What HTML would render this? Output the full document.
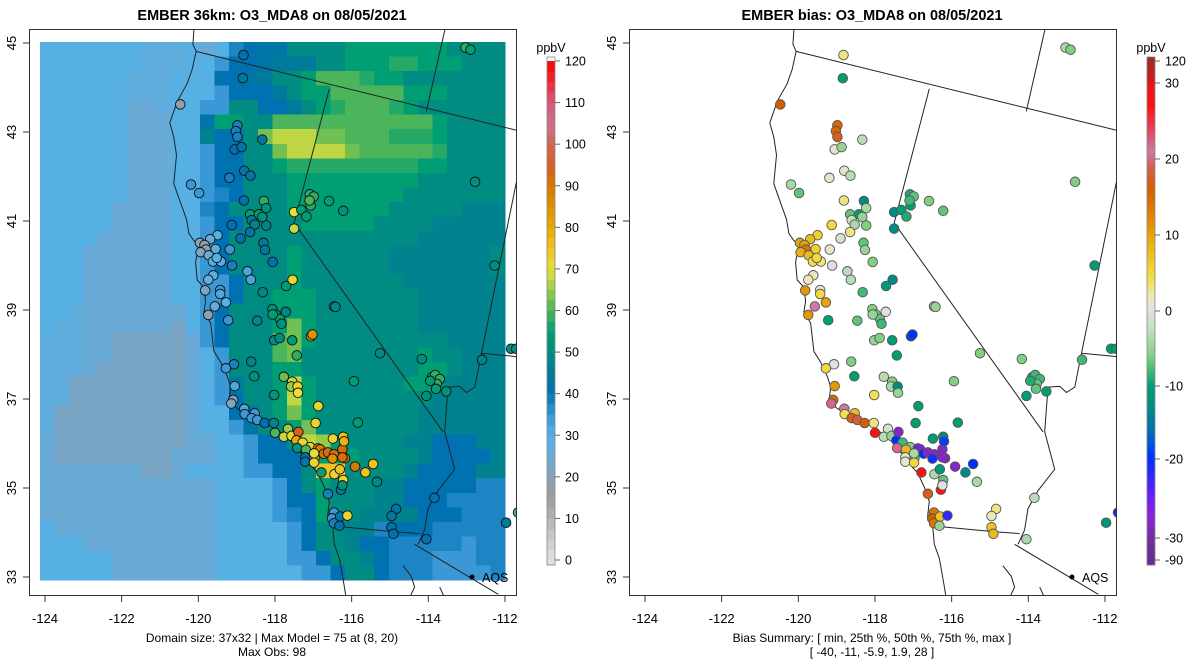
<!DOCTYPE html>
<html><head><meta charset="utf-8"><title>EMBER O3_MDA8</title>
<style>
html,body{margin:0;padding:0;background:#fff;}
svg{display:block;font-family:"Liberation Sans",Arial,sans-serif;}
</style></head>
<body>
<svg id="fig" width="1200" height="672" viewBox="0 0 1200 672" xmlns="http://www.w3.org/2000/svg">
<defs>
<clipPath id="clipL"><rect x="29" y="29" width="487" height="566"/></clipPath>
<clipPath id="clipR"><rect x="629" y="29" width="488" height="566"/></clipPath>
</defs>
<text x="272" y="20" text-anchor="middle" font-size="14.5" font-weight="bold">EMBER 36km: O3_MDA8 on 08/05/2021</text>
<text x="872" y="20" text-anchor="middle" font-size="14.5" font-weight="bold">EMBER bias: O3_MDA8 on 08/05/2021</text>
<g id="gL" clip-path="url(#clipL)"></g>
<g id="gR" clip-path="url(#clipR)"></g>
<g id="axes"></g>
<text x="272" y="642" text-anchor="middle" font-size="12">Domain size: 37x32 | Max Model = 75 at (8, 20)</text>
<text x="272" y="656" text-anchor="middle" font-size="12">Max Obs: 98</text>
<text x="872" y="642" text-anchor="middle" font-size="12">Bias Summary: [ min, 25th %, 50th %, 75th %, max ]</text>
<text x="872" y="656" text-anchor="middle" font-size="12">[ -40,   -11,   -5.9,   1.9,   28 ]</text>
</svg>
<script>
// ---- model grid (value = base36 digit * 2.5 ppbV), 37 rows (north->south) x 32 cols
const gridRows = [
"cccccccbbbcacfghhkkkkmmmmmmmkkkk",
"cccccccbbbccegghiiikkmmmnnmmmkkk",
"ccccccbbbcccgghikkmooonmmkkkkkkk",
"ccccccbbbcccegggikmmooooommmkkkk",
"ccccccaabcceekkggikmnooonmkkkkkk",
"ccccccaaacchmmkkooooooooooomkkkk",
"ccccccaaaccjggkprrrppooonnnmkkkk",
"ccccccaaacceggkkprrrrpooooonkkkk",
"ccccccaaacceggkkmnnnnnnnnnmmkkkk",
"ccccccaaacceggkkkmmmmmmmmmkkkkkk",
"ccccccaaaccefgkkkmmmmmmmmkkkkkkk",
"cccccaaaaccfgkkkkmmmmmmmkkkkkjjj",
"cccccaaaacceggkkkkmmmmmkkkkjjjjj",
"ccccaaaaaccegkkkkkkkkkkkkkjjjjjj",
"cccaaaaaaccegkkkkmkkkkkkjjjjjjjk",
"cccaaaaaaccegkkkkmkkkkkkjjjjjjjk",
"cccaaaaaacceegkkkmkkkkkkkjjjjjjj",
"cccaaaaaacceegkkmmmkkkkkkkjjjjjj",
"ccbaaaaaaacegkkkmmmkkkkkkkjjjjjj",
"cbbaaaaaa9cegkkkmpmkkkkkkkjjjjjj",
"bbbaa99999aegkkkopmkkkkkkkkkjjjj",
"bbbaa99999acekkkopkkkkkkkkmkkjjj",
"bbba999999acekkkmmkkkkkkkkmmkjjj",
"bb99999999aceikkmrmkkkkkkmmkjjjj",
"bb99999999acegkkmrmkkkkkkkkjjjjj",
"b999999999accgikmpmkkkkkkkjjjjjj",
"b999999999accehkkmpkkkkkkkjjjjjj",
"a999999999aacceggkrqmkkkkjjgggjj",
"a99999999aaaccegggkmmmkkkkjggggj",
"aaaaaaa99acccceeggkuukkkkjggggjj",
"aaaaaaaaaaaaccccegkmkkkjjgggggff",
"aaaaaaaaaaaacccceggmkkkjjgggffff",
"aaaaaaaaaaaaccccefgmkkjjjjgggfff",
"caaaaaaaaaaacccccegkkjjfgggfffff",
"cccaaaaaaaaacccccegkkjggfffffeff",
"cccccaaaaaaaccccceegkkjgfffeeeff",
"cccccaaaaaaacccccceegkkgfffeeeef"
];
// ---- monitor sites
const siteLon = [-118.82,-118.84,-120.47,-118.98,-119.02,-118.98,-118.33,-119.05,-118.87,-118.80,-118.64,-119.19,-120.19,-119.98,-118.81,-118.29,-118.23,-118.65,-118.42,-118.33,-118.61,-118.53,-118.23,-119.13,-118.65,-118.90,-117.50,-117.31,-117.18,-117.09,-116.99,-117.07,-117.10,-116.59,-116.22,-117.50,-119.50,-119.69,-119.96,-119.84,-119.80,-119.55,-119.94,-119.73,-119.62,-119.41,-119.52,-119.18,-119.12,-118.30,-118.26,-118.06,-118.72,-118.63,-119.61,-119.74,-119.82,-119.43,-119.43,-119.28,-119.57,-119.74,-119.22,-118.46,-118.32,-117.71,-117.54,-118.07,-117.98,-117.87,-117.83,-117.72,-118.06,-116.46,-116.42,-112.78,-112.27,-113.03,-112.90,-118.02,-117.88,-117.55,-117.06,-117.02,-117.43,-115.26,-118.62,-119.07,-119.28,-118.54,-117.77,-117.55,-117.58,-117.41,-117.40,-118.02,-119.05,-115.94,-119.09,-119.14,-118.80,-118.79,-118.53,-118.61,-118.46,-118.27,-118.03,-116.87,-116.94,-115.84,-118.00,-117.66,-117.77,-117.57,-117.39,-117.44,-117.28,-117.08,-117.42,-117.19,-116.88,-116.82,-116.73,-116.62,-116.46,-116.50,-116.24,-116.17,-116.24,-116.49,-116.22,-116.20,-117.21,-117.21,-116.97,-116.98,-116.98,-116.79,-116.45,-116.31,-116.22,-116.28,-116.24,-115.91,-115.64,-115.44,-115.34,-116.62,-116.46,-116.51,-116.46,-116.30,-116.11,-116.32,-114.84,-114.96,-114.96,-114.91,-114.05,-114.17,-112.60,-111.84,-111.71,-113.90,-113.82,-113.70,-113.78,-113.80,-113.95,-113.53,-114.05,-113.84,-111.97,-111.66];
const siteLat = [44.73,44.21,43.62,43.15,43.02,42.89,42.83,42.61,42.66,42.13,42.02,41.97,41.82,41.63,41.46,41.45,41.29,41.15,41.15,41.09,41.02,40.92,40.90,40.91,40.75,40.61,41.20,41.25,41.10,41.60,41.55,41.35,41.46,41.45,41.23,40.83,40.68,40.59,40.51,40.46,40.36,40.37,40.30,40.23,40.09,40.09,40.17,40.36,40.00,40.51,40.35,40.08,39.87,39.68,39.78,39.68,39.44,39.45,39.36,39.17,39.08,38.89,38.77,38.76,39.40,39.54,39.68,39.02,38.90,38.80,38.69,38.96,38.90,39.08,39.07,41.88,40.00,44.90,44.85,38.32,38.37,38.32,38.41,38.45,37.98,38.03,37.84,37.78,37.69,37.51,37.50,37.39,37.28,37.28,37.14,37.09,37.29,37.40,36.98,36.90,36.78,36.66,36.68,36.57,36.53,36.46,36.46,36.84,36.46,36.47,36.24,36.33,36.15,36.17,36.26,36.07,36.02,35.92,35.90,35.86,35.89,35.87,35.77,35.80,35.76,35.66,35.87,35.67,35.69,36.11,36.15,36.05,35.69,35.59,35.68,35.57,35.78,35.35,35.31,35.42,35.18,34.96,35.06,35.48,35.35,35.54,35.14,34.87,34.45,34.32,34.21,34.36,34.38,34.15,34.53,34.37,34.12,33.97,33.85,37.90,37.88,38.13,38.13,37.49,37.54,37.45,37.34,37.23,37.41,37.17,37.07,34.78,34.22,34.45];
const siteObs = [40,45,18,38,38,38,45,40,42,42,42,38,35,35,40,58,52,55,55,52,45,48,48,40,42,40,70,55,55,58,58,58,60,55,52,68,30,25,20,18,20,28,22,25,30,30,30,35,38,45,45,40,32,32,30,28,22,35,32,30,25,20,35,48,50,55,72,52,55,55,52,48,55,50,50,52,50,58,55,50,50,55,85,85,58,50,48,38,35,52,62,68,65,72,70,52,32,55,22,22,32,35,35,35,35,40,48,72,72,55,60,65,68,72,95,80,72,72,52,60,88,88,90,92,92,85,92,95,92,72,75,78,42,42,72,72,70,55,72,75,72,45,52,90,75,75,50,38,35,35,38,42,72,40,42,42,42,40,40,50,48,52,52,58,58,58,58,55,55,52,52,40,45,60];
const siteBias = [3,-10,16,15,15,17,-3,1,-5,1,-3,1,-4,-7,3,-13,-4,-7,-10,-5,-2,-4,-6,5,3,-1,-13,-10,-9,-9,-7,-10,-8,-6,-7,-13,6,8,10,10,14,6,9,8,4,3,5,1,0,-7,-5,-6,-3,-3,2,2,11,0,5,10,21,11,-10,-7,-8,-11,-13,-6,-6,-7,-8,0,-5,-5,-5,-6,-10,-4,-6,-5,-6,-10,-20,-20,-10,-6,-6,0,5,-10,-3,-6,-4,-13,-5,4,11,-6,15,22,21,4,8,17,18,16,3,-10,-10,-10,27,-1,-3,-5,-28,-20,-8,-6,22,8,-25,-26,-20,-28,-28,-21,-28,-28,-28,-10,-13,-19,1,1,-7,5,-4,28,-4,-11,-7,28,0,-28,-13,-20,-4,17,14,16,14,7,-22,-5,3,2,7,8,-4,-6,-8,-10,-10,-9,-8,-8,-7,-7,-9,-10,-10,-3,-11,-20];
// ---- axis ticks
const lonTicks = [-124,-122,-120,-118,-116,-114,-112];
const latTicks = [33,35,37,39,41,43,45];
const obsTicks = [0,10,20,30,40,50,60,70,80,90,100,110,120];
const biasTickVals = [120,30,20,10,0,-10,-20,-30,-90];

function xL(lon){return 45 + (lon+124)*38.33;}
function yL(lat){return 577 - (lat-33)*44.5;}
const OFF = 600;
const obsStops=[[0,'#e2e2e2'],[10,'#b4b4b4'],[15,'#9c9c9c'],[20,'#8aa2b4'],[25,'#6aaad6'],[30,'#56b0e4'],[35,'#3a98d6'],[40,'#0072b2'],[45,'#007a9a'],[50,'#008c82'],[55,'#009e73'],[60,'#4cb45a'],[65,'#98cc48'],[70,'#e4df3a'],[75,'#f0c420'],[80,'#e8a800'],[90,'#d87800'],[95,'#d56020'],[100,'#cc6a50'],[105,'#cc7090'],[110,'#d85878'],[115,'#ee2838'],[120,'#ff0000']];
const biasStops=[[-90,'#6a2a8a'],[-30,'#7030a0'],[-27,'#9020e0'],[-24,'#5a20ff'],[-20,'#0030ff'],[-18,'#0050e0'],[-16,'#0070b0'],[-13,'#008a88'],[-10,'#009e73'],[-8,'#40b878'],[-6,'#80d080'],[-4,'#a8d8a8'],[-2,'#c8e0c8'],[0,'#e0e0e0'],[2,'#ece8b8'],[4,'#f0e050'],[6,'#f0d030'],[9,'#e8b010'],[12,'#e28a00'],[16,'#d55e00'],[19,'#d06050'],[21,'#cc79a7'],[24,'#e8405a'],[27,'#ff1010'],[32,'#d41a1a'],[120,'#9e2a2a']];
const biasPos=[[120,61],[30,83],[20,159],[10,235],[0,311],[-10,386],[-20,459],[-30,538],[-90,560]];
function hex(c){return [parseInt(c.substr(1,2),16),parseInt(c.substr(3,2),16),parseInt(c.substr(5,2),16)];}
function interp(stops,v){
  if(v<=stops[0][0])return stops[0][1];
  for(let i=1;i<stops.length;i++){
    if(v<=stops[i][0]){
      const t=(v-stops[i-1][0])/(stops[i][0]-stops[i-1][0]);
      const a=hex(stops[i-1][1]),b=hex(stops[i][1]);
      return 'rgb('+a.map((x,k)=>Math.round(x+(b[k]-x)*t)).join(',')+')';
    }
  }
  return stops[stops.length-1][1];
}
function biasY(v){
  for(let i=1;i<biasPos.length;i++){
    if(v>=biasPos[i][0]){const a=biasPos[i-1],b=biasPos[i];return a[1]+(v-a[0])/(b[0]-a[0])*(b[1]-a[1]);}
  }
  return 560;
}
const NS='http://www.w3.org/2000/svg';
function mk(tag,attrs,parent){const e=document.createElementNS(NS,tag);for(const k in attrs)e.setAttribute(k,attrs[k]);parent.appendChild(e);return e;}
const gL=document.getElementById('gL'),gR=document.getElementById('gR'),ax=document.getElementById('axes');

// heatmap
const CW=(505-40)/32, CH=(580-42)/37;
gridRows.forEach((row,r)=>{
  for(let c=0;c<32;c++){
    const ch=row[Math.min(c,row.length-1)];
    const v=parseInt(ch,36)*2.5;
    const el=mk('rect',{x:(40+c*CW).toFixed(2),y:(42+r*CH).toFixed(2),width:(CW+0.6).toFixed(2),height:(CH+0.6).toFixed(2),fill:interp(obsStops,v),'shape-rendering':'crispEdges'},gL);
    
    
  }
});

// basemap
const coastZ=[[490,-40],[490,0],[487,40],[497,60],[492,80],[485,110],[470,150],[440,200],[418,260],[430,300],[438,350],[430,430],[445,470],[468,530],[475,570],[490,590],[505,600],[495,650],[500,700],[520,720],[525,760],[520,790],[540,820],[550,900],[570,930],[590,970],[600,1000],[595,1040],[620,1060],[650,1075],[700,1095],[740,1120],[780,1150],[800,1170],[815,1190],[830,1210],[860,1240],[880,1280],[895,1320],[890,1360],[905,1390],[910,1440],[925,1480],[940,1560],[950,1620]];
const borders=[
 [[497,60],[1460,282]],
 [[1250,-40],[1185,228]],
 [[895,165],[790,540],[1235,1125]],
 [[1460,400],[1350,905]],
 [[1350,905],[1460,915]],
 [[1350,905],[1330,1000],[1305,1015],[1285,998],[1250,1000],[1245,1060],[1240,1125],[1270,1230],[1220,1290],[1190,1340],[1180,1400],[1160,1440]],
 [[920,1390],[1090,1405],[1165,1410]],
 [[1150,1440],[1400,1580]],
 [[1115,1500],[1140,1530],[1150,1560],[1130,1600]],
 [[1225,1560],[1240,1590]]
];
function zp(p,off){return ((30+p[0]/2.99)+off).toFixed(1)+','+(30+p[1]/2.8).toFixed(1);}
[[gL,0],[gR,OFF]].forEach(([g,off])=>{
  const coast=mk('polyline',{points:coastZ.map(p=>zp(p,off)).join(' '),fill:'none',stroke:'#222','stroke-width':1},g);
  
  
  borders.forEach(b=>{
    const l=mk('polyline',{points:b.map(p=>zp(p,off)).join(' '),fill:'none',stroke:'#222','stroke-width':1},g);
    
    
  });
});

// sites
for(let i=0;i<siteLon.length;i++){
  const cx=xL(siteLon[i]),cy=yL(siteLat[i]);
  const a=mk('circle',{cx:cx.toFixed(1),cy:cy.toFixed(1),r:4.8,fill:interp(obsStops,siteObs[i]),stroke:'#111','stroke-width':0.9},gL);
  
  
  const b=mk('circle',{cx:(cx+OFF).toFixed(1),cy:cy.toFixed(1),r:4.8,fill:interp(biasStops,siteBias[i]),stroke:'#555','stroke-width':0.9},gR);
  
  
}

// AQS legend
[0,OFF].forEach(off=>{
  const d=mk('circle',{cx:472+off,cy:577,r:2.5,fill:'#000'},ax);
  
  
  const t=mk('text',{x:482+off,y:582,'font-size':12.5},ax);t.textContent='AQS';
  
  
});

// frames & axes
[0,OFF].forEach(off=>{
  const f=mk('rect',{x:29.5+off,y:29.5,width:487,height:566,fill:'none',stroke:'#333','stroke-width':1},ax);
  
  
  lonTicks.forEach(v=>{
    const x=xL(v)+off;
    const tk=mk('line',{x1:x,x2:x,y1:596,y2:602,stroke:'#333'},ax);
    
    
    const t=mk('text',{x:x,y:623,'text-anchor':'middle','font-size':13},ax);t.textContent=String(v);
    
    
  });
  latTicks.forEach(v=>{
    const y=yL(v);
    const tk=mk('line',{x1:23+off,x2:29+off,y1:y,y2:y,stroke:'#333'},ax);
    
    
    const t=mk('text',{x:0,y:0,'text-anchor':'middle','font-size':13,transform:'translate('+(16+off)+','+y+') rotate(-90)'},ax);t.textContent=v;
    
    
  });
});

// left colourbar
(function(){
  const x0=547,w=8,top=57,bot=565;
  const yv=v=>560-(v/120)*(560-61);
  for(let v=-2.5;v<120;v+=2.5){
    const y1=Math.max(top,yv(v+2.5)),y2=Math.min(bot,yv(v));
    const r=mk('rect',{x:x0,y:y1.toFixed(1),width:w,height:(y2-y1+0.5).toFixed(1),fill:interp(obsStops,v+1.25),'shape-rendering':'crispEdges'},ax);
    
    
  }
  const fr=mk('rect',{x:x0,y:top,width:w,height:bot-top,fill:'none',stroke:'#888','stroke-width':0.8},ax);
  
  
  obsTicks.forEach(v=>{
    const y=yv(v);
    const l=mk('line',{x1:x0+w,x2:x0+w+5,y1:y,y2:y,stroke:'#666'},ax);
    
    
    const t=mk('text',{x:x0+w+10,y:y+4.5,'font-size':12.5},ax);t.textContent=v;
    
    
  });
  const u=mk('text',{x:x0+4,y:52,'text-anchor':'middle','font-size':12.5},ax);u.textContent='ppbV';
  
  
})();

// right colourbar
(function(){
  const x0=1147,w=8,top=57,bot=565;
  for(let y=top;y<bot;y+=2){
    let v=0;
    for(let i=1;i<biasPos.length;i++){
      const a=biasPos[i-1],b=biasPos[i];
      if(y+1<=b[1]||i===biasPos.length-1){v=a[0]+(y+1-a[1])/(b[1]-a[1])*(b[0]-a[0]);break;}
    }
    const r=mk('rect',{x:x0,y:y,width:w,height:2.4,fill:interp(biasStops,v),'shape-rendering':'crispEdges'},ax);
    
    
  }
  const fr=mk('rect',{x:x0,y:top,width:w,height:bot-top,fill:'none',stroke:'#888','stroke-width':0.8},ax);
  
  
  biasTickVals.forEach(v=>{
    const y=biasY(v);
    const l=mk('line',{x1:x0+w,x2:x0+w+5,y1:y,y2:y,stroke:'#666'},ax);
    
    
    const t=mk('text',{x:x0+w+10,y:y+4.5,'font-size':12.5},ax);t.textContent=v;
    
    
  });
  const u=mk('text',{x:x0+4,y:52,'text-anchor':'middle','font-size':12.5},ax);u.textContent='ppbV';
  
  
})();
</script>
</body></html>
